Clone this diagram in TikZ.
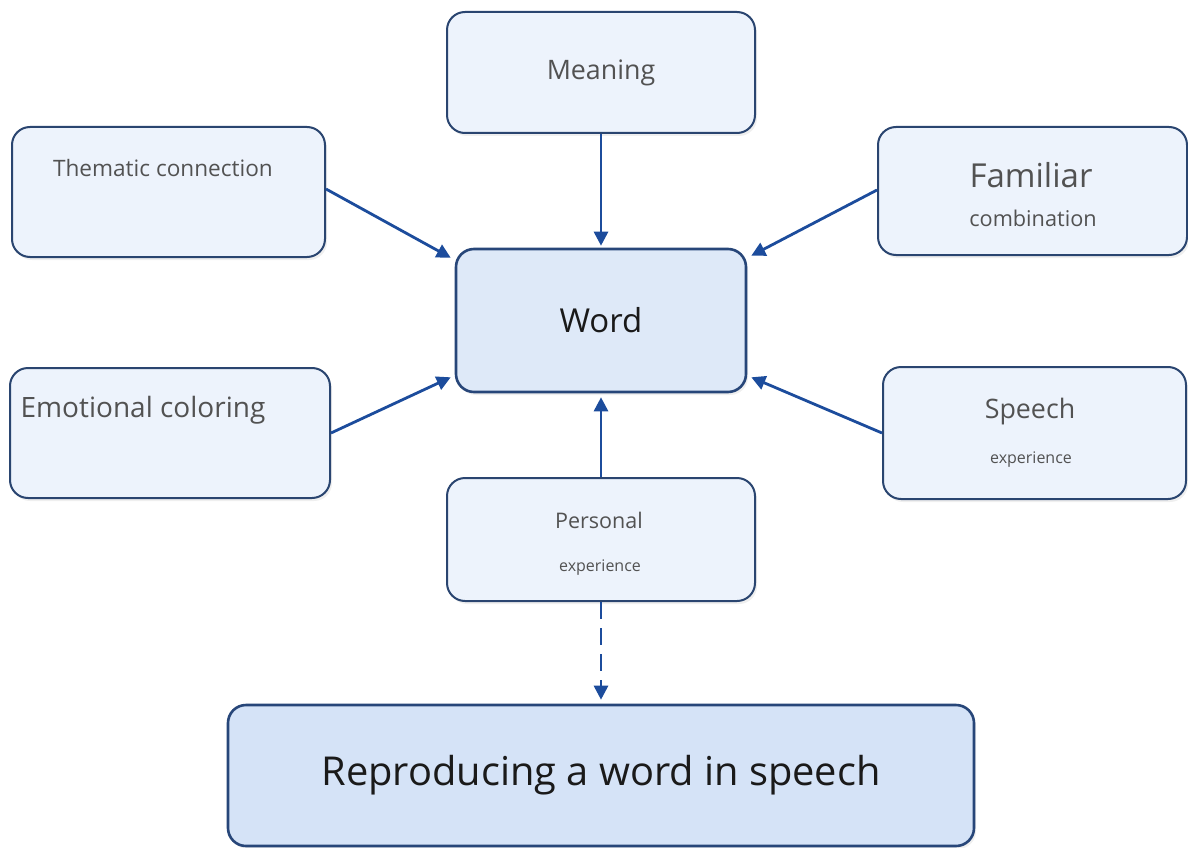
\documentclass[tikz,border=0pt]{standalone}
\usepackage{fontspec}
\setmainfont{Open Sans}
\usepackage{xcolor}
\usetikzlibrary{arrows.meta, positioning, shadows}

\definecolor{boxfill}{HTML}{EDF3FC}
\definecolor{wordfill}{HTML}{DEE9F8}
\definecolor{reprofill}{HTML}{D5E3F7}
\definecolor{boxline}{HTML}{2A4570}
\definecolor{arrowblue}{HTML}{1C4C9C}
\definecolor{softtext}{HTML}{525252}
\definecolor{darktext}{HTML}{1A1A1A}

\begin{document}
\begin{tikzpicture}[
  x=1pt, y=-1pt,
  box/.style={draw=boxline, line width=2pt, rounded corners=18pt, fill=boxfill,
    drop shadow={opacity=0.12, shadow xshift=2pt, shadow yshift=-3pt}},
  mainbox/.style={box, fill=wordfill, draw=boxline!80!arrowblue, line width=2.6pt},
  txt/.style={text=softtext, inner sep=0pt},
  arrow/.style={-{Triangle[length=14pt, width=14pt]}, line width=2.8pt, draw=arrowblue},
  dashedarrow/.style={arrow, dash pattern=on 17pt off 9pt},
]
\useasboundingbox[fill=white] (0,0) rectangle (1188,848);

% --- Boxes
\node[box, minimum width=308pt, minimum height=121pt, text=softtext,
  font=\fontsize{26.8}{32}\selectfont] (meaning) at (601,72.5) {Meaning};
\node[box, minimum width=313pt, minimum height=130pt] (thematic) at (168.5,192) {};
\node[box, minimum width=309pt, minimum height=128pt] (familiar) at (1032.5,191) {};
\node[mainbox, minimum width=290pt, minimum height=143pt, text=darktext,
  font=\fontsize{33}{40}\selectfont] (word) at (601,320.5) {Word};
\node[box, minimum width=320pt, minimum height=130pt] (emotional) at (170,433) {};
\node[box, minimum width=303pt, minimum height=132pt] (speech) at (1034.5,433) {};
\node[box, minimum width=308pt, minimum height=123pt] (personal) at (601,539.5) {};
\node[mainbox, fill=reprofill, minimum width=746pt, minimum height=141pt, text=darktext,
  font=\fontsize{39.8}{46}\selectfont] (repro) at (601,775.5) {Reproducing a word in speech};

% --- Texts inside the boxes
\node[txt, font=\fontsize{22.6}{27}\selectfont] (thematictxt) at (163,168) {Thematic connection};
\node[txt, font=\fontsize{33}{40}\selectfont] (familiartxt) at (1031,175) {Familiar};
\node[txt, font=\fontsize{21.7}{26}\selectfont] (combtxt) at (1033,218) {combination};
\node[txt, font=\fontsize{28}{34}\selectfont] (emotionaltxt) at (143,410) {Emotional coloring};
\node[txt, font=\fontsize{26.8}{32}\selectfont] (speechtxt) at (1030,412) {Speech};
\node[txt, font=\fontsize{16}{19}\selectfont] (speechexp) at (1031,460) {experience};
\node[txt, font=\fontsize{21.5}{26}\selectfont] (personaltxt) at (599,520) {Personal};
\node[txt, font=\fontsize{16}{19}\selectfont] (personalexp) at (600,568) {experience};

% --- Arrows into the word
\draw[arrow] (meaning.south) -- ([yshift=2pt]word.north);
\draw[arrow] ([yshift=3pt]thematic.east) -- ([xshift=-4pt,yshift=-10pt]word.north west);
\draw[arrow] ([yshift=1pt]familiar.west) -- ([xshift=4pt,yshift=-8pt]word.north east);
\draw[arrow] (emotional.east) -- ([xshift=-4pt,yshift=16pt]word.south west);
\draw[arrow] (speech.west) -- ([xshift=4pt,yshift=16pt]word.south east);
\draw[arrow] (personal.north) -- ([yshift=-4pt]word.south);

% --- Arrow to the speech output
\draw[dashedarrow] (personal.south) -- ([yshift=4pt]repro.north);

\end{tikzpicture}
\end{document}
